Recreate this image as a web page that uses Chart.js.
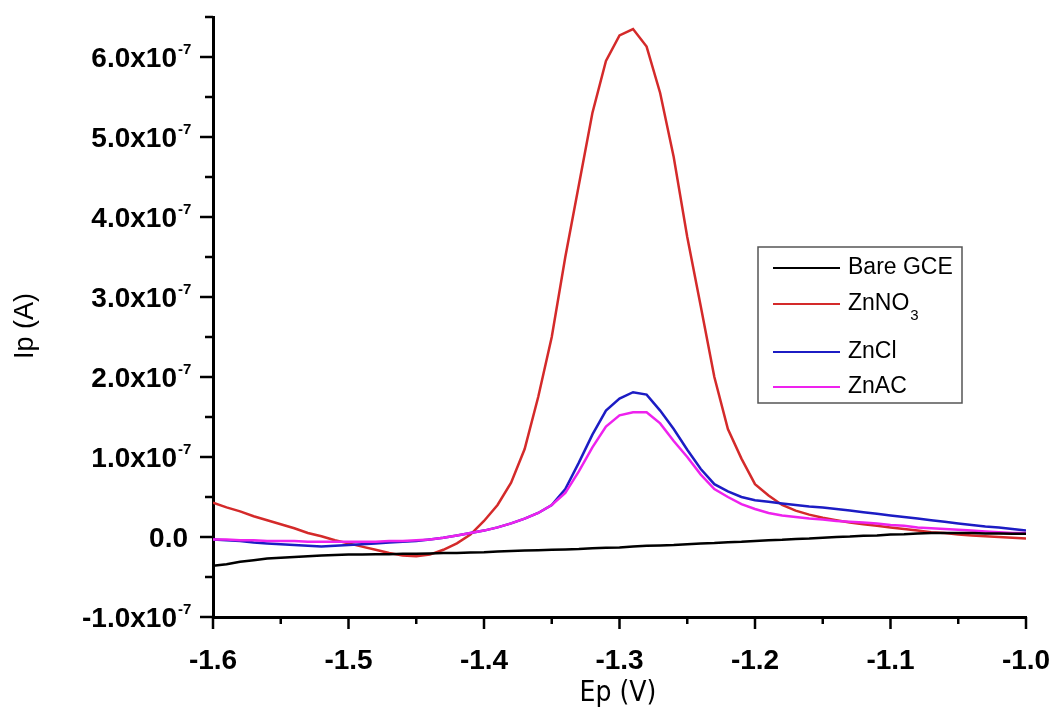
<!DOCTYPE html>
<html>
<head>
<meta charset="utf-8">
<script src="https://cdn.jsdelivr.net/npm/chart.js@4.4.0/dist/chart.umd.min.js"></script>
<style>
  html, body { margin: 0; padding: 0; background: #fff; }
  #wrap { width: 1052px; height: 715px; }
</style>
</head>
<body>
<div id="wrap"><canvas id="dpvChart" width="1052" height="715"></canvas></div>
<script>
// potential (V)
const potentials = [
  -1.60, -1.59, -1.58, -1.57, -1.56, -1.55, -1.54, -1.53, -1.52, -1.51,
  -1.50, -1.49, -1.48, -1.47, -1.46, -1.45, -1.44, -1.43, -1.42, -1.41,
  -1.40, -1.39, -1.38, -1.37, -1.36, -1.35, -1.34, -1.33, -1.32, -1.31,
  -1.30, -1.29, -1.28, -1.27, -1.26, -1.25, -1.24, -1.23, -1.22, -1.21,
  -1.20, -1.19, -1.18, -1.17, -1.16, -1.15, -1.14, -1.13, -1.12, -1.11,
  -1.10, -1.09, -1.08, -1.07, -1.06, -1.05, -1.04, -1.03, -1.02, -1.01,
  -1.00
];

// peak current, in units of 1e-7 A
const bareGCE = [
  -0.36, -0.34, -0.31, -0.29, -0.27, -0.26, -0.25, -0.24, -0.23, -0.225,
  -0.22, -0.22, -0.215, -0.215, -0.21, -0.21, -0.205, -0.20, -0.20, -0.195,
  -0.19, -0.18, -0.175, -0.17, -0.165, -0.16, -0.155, -0.15, -0.14, -0.135,
  -0.13, -0.12, -0.11, -0.105, -0.10, -0.09, -0.08, -0.075, -0.065, -0.06,
  -0.05, -0.04, -0.035, -0.025, -0.02, -0.01, 0.00, 0.005, 0.015, 0.02,
  0.03, 0.035, 0.045, 0.05, 0.05, 0.05, 0.05, 0.045, 0.045, 0.04,
  0.04
];
const znNO3 = [
  0.43, 0.37, 0.32, 0.26, 0.21, 0.16, 0.11, 0.05, 0.01, -0.04,
  -0.08, -0.12, -0.16, -0.20, -0.23, -0.24, -0.22, -0.16, -0.08, 0.03,
  0.20, 0.40, 0.68, 1.10, 1.75, 2.50, 3.50, 4.40, 5.30, 5.95,
  6.27, 6.35, 6.13, 5.55, 4.75, 3.75, 2.88, 2.00, 1.35, 0.98,
  0.66, 0.52, 0.40, 0.33, 0.28, 0.24, 0.21, 0.18, 0.16, 0.14,
  0.12, 0.10, 0.08, 0.06, 0.05, 0.03, 0.02, 0.01, 0.00, -0.01,
  -0.02
];
const znCl = [
  -0.03, -0.04, -0.05, -0.07, -0.08, -0.09, -0.10, -0.11, -0.12, -0.11,
  -0.10, -0.09, -0.08, -0.07, -0.06, -0.05, -0.03, -0.01, 0.02, 0.05,
  0.08, 0.12, 0.17, 0.23, 0.30, 0.40, 0.60, 0.93, 1.28, 1.58,
  1.73, 1.81, 1.78, 1.58, 1.35, 1.09, 0.85, 0.66, 0.57, 0.50,
  0.46, 0.44, 0.42, 0.40, 0.38, 0.37, 0.35, 0.33, 0.31, 0.29,
  0.27, 0.25, 0.23, 0.21, 0.19, 0.17, 0.15, 0.13, 0.12, 0.10,
  0.08
];
const znAC = [
  -0.03, -0.03, -0.04, -0.04, -0.05, -0.05, -0.05, -0.06, -0.06, -0.06,
  -0.06, -0.06, -0.06, -0.05, -0.05, -0.04, -0.03, -0.01, 0.02, 0.05,
  0.08, 0.12, 0.17, 0.23, 0.30, 0.40, 0.55, 0.82, 1.12, 1.38,
  1.52, 1.56, 1.56, 1.42, 1.20, 1.00, 0.78, 0.60, 0.50, 0.41,
  0.35, 0.30, 0.27, 0.25, 0.23, 0.22, 0.20, 0.19, 0.18, 0.17,
  0.15, 0.14, 0.12, 0.11, 0.10, 0.09, 0.08, 0.07, 0.06, 0.05,
  0.05
];

const xTicks = [-1.6, -1.5, -1.4, -1.3, -1.2, -1.1, -1.0];
const yTicks = [-1, 0, 1, 2, 3, 4, 5, 6];
const seriesNames = ['Bare GCE', 'ZnNO3', 'ZnCl', 'ZnAC'];
const seriesColors = ['#000000', '#d42a2a', '#1c1cc4', '#ee22ee'];

const pts = ys => potentials.map((x, i) => ({ x: x, y: ys[i] }));

// ticks, labels, titles and legend (Origin style)
const axisDecor = {
  id: 'axisDecor',
  afterDraw(chart) {
    const ctx = chart.ctx;
    const xs = chart.scales.x, ysc = chart.scales.y;
    const left = chart.chartArea.left, bottom = chart.chartArea.bottom;
    const boldFont = 'bold 28px "Liberation Sans", Arial, sans-serif';
    ctx.save();
    ctx.strokeStyle = '#000';
    ctx.fillStyle = '#000';
    ctx.lineWidth = 2.5;
    const seg = (x1, y1, x2, y2) => {
      ctx.beginPath(); ctx.moveTo(x1, y1); ctx.lineTo(x2, y2); ctx.stroke();
    };

    // y ticks + labels
    yTicks.forEach(v => {
      const py = ysc.getPixelForValue(v);
      seg(left - 13, py, left, py);
      const mid = ysc.getPixelForValue(v + 0.5);
      if (v + 0.5 <= ysc.max) seg(left - 8, mid, left, mid);
      ctx.textBaseline = 'middle';
      if (v === 0) {
        ctx.textAlign = 'right';
        ctx.font = boldFont;
        ctx.fillText('0.0', 188, py + 2);
      } else {
        ctx.textAlign = 'right';
        ctx.font = boldFont;
        ctx.fillText(v.toFixed(1) + 'x10', 177, py + 2);
        ctx.textAlign = 'left';
        ctx.font = 'bold 15px "Liberation Sans", Arial, sans-serif';
        ctx.fillText('-7', 178, py - 7);
      }
    });

    // x ticks + labels
    xTicks.forEach((v, i) => {
      const px = xs.getPixelForValue(v);
      seg(px, bottom, px, bottom + 12);
      if (i < xTicks.length - 1) {
        const mid = xs.getPixelForValue(v + 0.05);
        seg(mid, bottom, mid, bottom + 7);
      }
      ctx.font = boldFont;
      ctx.textAlign = 'center';
      ctx.textBaseline = 'top';
      ctx.fillText(v.toFixed(1), px, 647);
    });

    // axis titles
    ctx.font = '28px "Liberation Sans Narrow", "DejaVu Sans Condensed", Arial, sans-serif';
    ctx.textAlign = 'center';
    ctx.textBaseline = 'middle';
    ctx.fillText('Ep (V)', 618, 694);
    ctx.save();
    ctx.translate(26, 326);
    ctx.rotate(-Math.PI / 2);
    ctx.font = '27px "Liberation Sans", Arial, sans-serif';
    ctx.fillText('Ip (A)', 0, 0);
    ctx.restore();

    // legend box
    ctx.lineWidth = 1.5;
    ctx.strokeStyle = '#555';
    ctx.strokeRect(758, 247, 204, 156);
    const rows = [268, 304, 352, 387];
    seriesNames.forEach((name, i) => {
      ctx.strokeStyle = seriesColors[i];
      ctx.lineWidth = 2;
      seg(773, rows[i], 840, rows[i]);
      ctx.fillStyle = '#000';
      ctx.textAlign = 'left';
      ctx.textBaseline = 'middle';
      ctx.font = '23px "Liberation Sans", Arial, sans-serif';
      if (name === 'ZnNO3') {
        ctx.fillText('ZnNO', 848, rows[i]);
        const w = ctx.measureText('ZnNO').width;
        ctx.font = '15px "Liberation Sans", Arial, sans-serif';
        ctx.fillText('3', 848 + w + 1, rows[i] + 12);
      } else {
        ctx.fillText(name, 848, rows[i]);
      }
    });
    ctx.restore();
  }
};

new Chart(document.getElementById('dpvChart'), {
  type: 'line',
  data: {
    datasets: [
      { label: seriesNames[0], data: pts(bareGCE), borderColor: seriesColors[0], order: 0 },
      { label: seriesNames[1], data: pts(znNO3), borderColor: seriesColors[1], order: 3 },
      { label: seriesNames[2], data: pts(znCl), borderColor: seriesColors[2], order: 2 },
      { label: seriesNames[3], data: pts(znAC), borderColor: seriesColors[3], order: 1 }
    ]
  },
  options: {
    responsive: false,
    animation: false,
    devicePixelRatio: 1,
    layout: { padding: { left: 213, top: 17, right: 26, bottom: 98 } },
    elements: {
      line: { borderWidth: 2.5, tension: 0, fill: false },
      point: { radius: 0 }
    },
    plugins: {
      legend: { display: false },
      tooltip: { enabled: false }
    },
    scales: {
      x: {
        type: 'linear',
        min: -1.6,
        max: -1.0,
        grid: { display: false },
        ticks: { display: false },
        border: { display: true, color: '#000', width: 3 },
        afterFit: s => { s.height = 0; }
      },
      y: {
        type: 'linear',
        min: -1,
        max: 6.5,
        grid: { display: false },
        ticks: { display: false },
        border: { display: true, color: '#000', width: 3 },
        afterFit: s => { s.width = 0; }
      }
    }
  },
  plugins: [axisDecor]
});
</script>
</body>
</html>
